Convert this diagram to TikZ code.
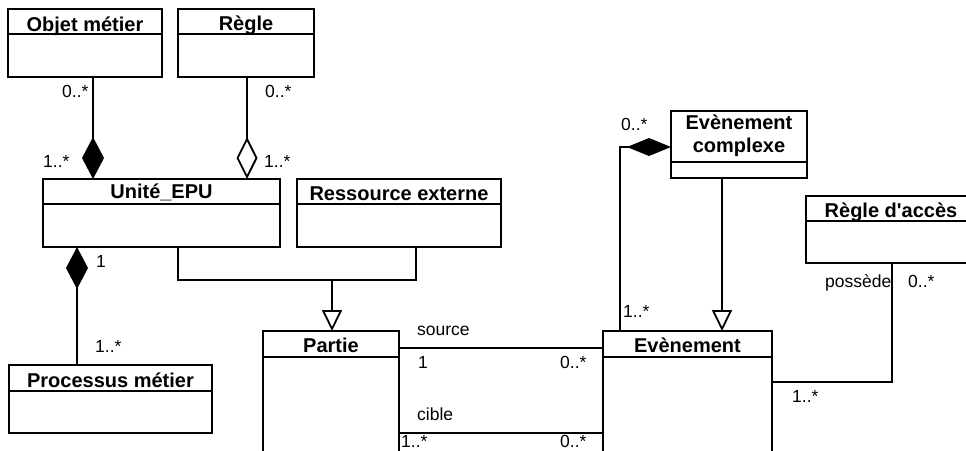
\documentclass[tikz,border=0pt]{standalone}
\usepackage{fontspec}
\setmainfont{Liberation Sans}
\usetikzlibrary{arrows.meta,calc}
\tikzset{
  line/.style={draw=black, line width=1.8pt},
  classbox/.style={draw=black, line width=1.8pt, fill=white, inner sep=0pt, outer sep=0pt},
  ctitle/.style={inner sep=0pt, font=\fontsize{20}{23}\selectfont\bfseries},
  lbl/.style={inner sep=0pt, anchor=base west, font=\fontsize{17.5}{20}\selectfont},
  compo/.tip={Diamond[length=42pt,width=22pt]},
  compoH/.tip={Diamond[length=44pt,width=18pt]},
  aggr/.tip={Diamond[open,length=42pt,width=21pt]},
  gen/.tip={Triangle[open,length=21pt,width=20pt]},
}
% name, x, y, w, h, header height, title, baseline offset above divider
\newcommand{\umlclass}[8]{%
  \node[classbox, minimum width=#4pt, minimum height=#5pt] (#1) at ({#2+#4/2},{#3+#5/2}) {};
  \draw[line] (#2,#3+#6) -- (#2+#4,#3+#6);
  \node[ctitle, anchor=base] (#1-t) at ({#2+#4/2},{#3+#6-#8}) {#7};
}
\begin{document}
\begin{tikzpicture}[x=1pt,y=-1pt]
\useasboundingbox (0,0) rectangle (966,450);
\clip (0,0) rectangle (966,450);
\fill[white] (0,0) rectangle (966,450);

% classes
\umlclass{obj}{8}{9}{154}{68}{25}{Objet métier}{3}
\umlclass{regle}{178}{9}{136}{68}{25}{Règle}{4}
\umlclass{unite}{43}{179}{237}{68}{25}{Unité\_EPU}{6}
\umlclass{ress}{297}{179}{204}{68}{25}{Ressource externe}{4}
\umlclass{proc}{9}{365}{203}{68}{26}{Processus métier}{4}
\umlclass{partie}{263}{331}{136}{140}{26}{Partie}{5}
\umlclass{even}{603}{331}{169}{140}{26}{Evènement}{5}
\umlclass{acces}{806}{196}{170}{67}{25}{Règle d\textquotesingle accès}{4}
\umlclass{cplx}{671}{111}{136}{67}{51}{}{4}
\node[ctitle, align=center] (cplx-title) at (739,136) {Evènement\\complexe};

% connectors
\draw[line, -compo] (obj.south -| 93,0) -- (unite.north -| 93,0);
\draw[line, -aggr] (regle.south -| 247,0) -- (unite.north -| 247,0);
\draw[line, compo-] (unite.south -| 77,0) -- (proc.north -| 77,0);

\coordinate (g1) at (178,280);
\coordinate (g2) at (416,280);
\coordinate (gj) at (332,280);
\draw[line] (unite.south -| g1) -- (g1) -- (g2) -- (ress.south -| g2);
\draw[line, -gen] (gj) -- (partie.north -| gj);

\draw[line] (partie.east |- 0,348) -- (even.west |- 0,348);
\draw[line] (partie.east |- 0,433) -- (even.west |- 0,433);

\coordinate (c1) at (620,147);
\draw[line, compoH-] (cplx.west |- c1) -- (c1) -- (even.north -| c1);
\draw[line, -gen] (cplx.south -| 722,0) -- (even.north -| 722,0);

\coordinate (a1) at (892,382);
\draw[line] (acces.south -| a1) -- (a1) -- (even.east |- a1);

% labels
\node[lbl] (l1) at (62,97) {0..*};
\node[lbl] (l2) at (265,97) {0..*};
\node[lbl] (l3) at (43,167) {1..*};
\node[lbl] (l4) at (264,167) {1..*};
\node[lbl] (l5) at (96,267) {1};
\node[lbl] (l6) at (95,352) {1..*};
\node[lbl] (l7) at (417,335) {source};
\node[lbl] (l8) at (418,368) {1};
\node[lbl] (l9) at (417,420) {cible};
\node[lbl] (l10) at (401,447) {1..*};
\node[lbl] (l11) at (560,368) {0..*};
\node[lbl] (l12) at (560,447) {0..*};
\node[lbl] (l13) at (621,130) {0..*};
\node[lbl] (l14) at (623,317) {1..*};
\node[lbl] (l15) at (825,287) {possède};
\node[lbl] (l16) at (908,287) {0..*};
\node[lbl] (l17) at (792,402) {1..*};
\end{tikzpicture}
\end{document}
